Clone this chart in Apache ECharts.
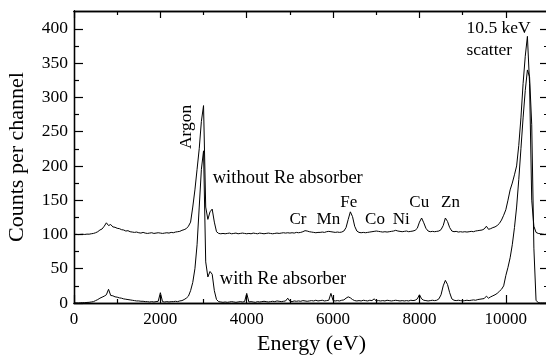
<!DOCTYPE html>
<html>
<head>
<meta charset="utf-8">
<script src="https://cdn.jsdelivr.net/npm/echarts@6.0.0/dist/echarts.min.js"></script>
<style>
html,body{margin:0;padding:0;background:#fff;}
#c{width:546px;height:356px;}
</style>
</head>
<body>
<div id="c"></div>
<script>
// Energy channels (eV)
const energy = [
  0,50,100,150,200,250,300,350,400,450,
  500,550,600,650,700,750,800,850,900,950,
  1000,1050,1100,1150,1200,1250,1300,1350,1400,1450,
  1500,1550,1600,1650,1700,1750,1800,1850,1900,1950,
  2000,2050,2100,2150,2200,2250,2300,2350,2400,2450,
  2500,2550,2600,2650,2700,2750,2800,2850,2900,2950,
  3000,3050,3100,3150,3200,3250,3300,3350,3400,3450,
  3500,3550,3600,3650,3700,3750,3800,3850,3900,3950,
  4000,4050,4100,4150,4200,4250,4300,4350,4400,4450,
  4500,4550,4600,4650,4700,4750,4800,4850,4900,4950,
  5000,5050,5100,5150,5200,5250,5300,5350,5400,5450,
  5500,5550,5600,5650,5700,5750,5800,5850,5900,5950,
  6000,6050,6100,6150,6200,6250,6300,6350,6400,6450,
  6500,6550,6600,6650,6700,6750,6800,6850,6900,6950,
  7000,7050,7100,7150,7200,7250,7300,7350,7400,7450,
  7500,7550,7600,7650,7700,7750,7800,7850,7900,7950,
  8000,8050,8100,8150,8200,8250,8300,8350,8400,8450,
  8500,8550,8600,8650,8700,8750,8800,8850,8900,8950,
  9000,9050,9100,9150,9200,9250,9300,9350,9400,9450,
  9500,9550,9600,9650,9700,9750,9800,9850,9900,9950,
  10000,10050,10100,10150,10200,10250,10300,10350,10400,10450,
  10500,10550,10600,10650,10700,10750,10800,10850,10900,10950,
  11000
];
// Counts per channel, spectrum without Re absorber (offset +100)
const withoutRe = [
  100.0,100.2,99.8,100.1,100.3,100.0,100.5,100.4,101.0,101.5,
  102.5,104,106.5,108,112,117,113,114.5,111,110.5,
  109,108.5,107,106.5,105,105.5,104,103.5,103,103.5,
  102.5,102,103,102,101.5,102,102.5,101.5,102,102.5,
  102,101.5,102,102.5,102,103,102.5,103.5,104,104.5,
  106,107,108.5,112,118,140,165,195,225,265,
  288,140,122,133,137,118,104,101.5,101,101.5,
  101,101.5,102,101,101.5,102,101,101.5,102,101.5,
  101,101.5,101,102,101.5,101,102,101.5,101,101.5,
  102,101.5,101,101.5,102,101.5,102,102.5,102,102.5,
  102,102.5,102,103,102.5,103,104,105.5,105,104,
  103.5,103,102.5,103,103,103.5,103,104,104.5,104,
  103.5,103,103.5,103,103.5,105,110,122,133,126,
  112,105,103,102.5,103,102.5,103,103.5,104,104.5,
  105,104.5,104,103.5,104,103.5,104,104.5,105,106,
  105,104.5,104,104.5,105,104,104.5,105,106,109,
  118,124,117,109,105,104,104.5,104,104.5,105,
  107,113,124,119,110,105,104,104.5,103.5,104,
  103.5,104,103.5,104,104.5,104,105,105.5,106,106.5,
  108,112,107.5,108.5,110,111,113,116,121,128,
  136,150,165,175,187,200,230,270,320,360,
  389,320,150,112,103,101.5,101,100.5,100,100.5,
  100
];
// Counts per channel, spectrum with Re absorber
const withRe = [
  0,0.2,0,0.3,0.5,0.5,0.8,1,1.5,2,
  3.5,5,7,8.5,10,12,20,11,10.5,9,
  8.5,7.5,7,6,5.5,5,4.5,4,3.5,3,
  3,2.5,2.5,2,2,1.5,2,1.5,2,2.5,
  15,2,1.5,2,1.5,2,2,2.5,2,3,
  3.5,5,7,10,18,30,50,85,140,195,
  222,60,38,46,42,18,5,2,1.5,1,
  1.5,1,1.5,2,1.5,1,1.5,2,1.5,2,
  14,1.5,2,1.5,1,2,1.5,2,2.5,2,
  1.5,2,2.5,2,3,2.5,2,2.5,3,7,
  2.5,2,3,2.5,3,2.5,3.5,3,2.5,3,
  3.5,3,4,3,3.5,4,3,3.5,4,14,
  3.5,3,3.5,3,4,4.5,7,9,7.5,5,
  3.5,3,3.5,3,4,3.5,3,4,3.5,6,
  3,3.5,3,3.5,3,4,3.5,3,3.5,4,
  3.5,3,3.5,3,3.5,3,4,3.5,4,6,
  12,6,4,3.5,3,3.5,4,3.5,4,6,
  12,25,33,27,15,6,4,3.5,4,3.5,
  3,3.5,4,3.5,4,4.5,4,5,5.5,6,
  6.5,10,7,9,10.5,12,14,17,20,25,
  40,52,66,85,110,140,180,225,270,310,
  340,330,260,80,4,0.5,0,0,0,0,
  0
];
// Tick positions / labels
const xMajorTicks = [0,2000,4000,6000,8000,10000];
const xMinorTicks = [1000,3000,5000,7000,9000];
const yMajorTicks = [0,50,100,150,200,250,300,350,400];
const yMinorTicks = [25,75,125,175,225,275,325,375];
// Annotations
const labels = [
  {text:'without Re absorber', e:4950, c:182},
  {text:'with Re absorber', e:4840, c:35},
  {text:'Cr', e:5185, c:122},
  {text:'Mn', e:5890, c:122},
  {text:'Fe', e:6365, c:147},
  {text:'Co', e:6970, c:122},
  {text:'Ni', e:7580, c:122},
  {text:'Cu', e:7995, c:147},
  {text:'Zn', e:8720, c:147}
];

const FONT = 'Liberation Serif';
const X0 = 74, W = 475, Y0 = 11, H = 292, XMAX = 11000, YMAX = 426;

const chart = echarts.init(document.getElementById('c'), null, {renderer:'canvas'});

function xAx(pos, ticks, len, opts) {
  return Object.assign({
    type:'value', position:pos, min:0, max:XMAX, gridIndex:0,
    axisLine:{show:true, onZero:false, lineStyle:{color:'#000', width:1.3}},
    axisTick:{show:true, inside:true, length:len, customValues:ticks, lineStyle:{color:'#000', width:1.2}},
    axisLabel:{show:false},
    splitLine:{show:false}
  }, opts||{});
}
function yAx(pos, ticks, len, opts) {
  return Object.assign({
    type:'value', position:pos, min:0, max:YMAX, gridIndex:0,
    axisLine:{show:true, onZero:false, lineStyle:{color:'#000', width:1.3}},
    axisTick:{show:true, inside:true, length:len, customValues:ticks, lineStyle:{color:'#000', width:1.2}},
    axisLabel:{show:false},
    splitLine:{show:false}
  }, opts||{});
}

const graphics = labels.map(l => ({
  type:'text',
  x: X0 + l.e / XMAX * W,
  y: Y0 + H - l.c / YMAX * H,
  style:{text:l.text, font:'17px "' + FONT + '"', fill:'#000', align:'center', verticalAlign:'middle'}
}));
graphics[0].style.font = '18.5px "' + FONT + '"';
graphics[1].style.font = '18.5px "' + FONT + '"';
graphics.push({
  type:'text', x: X0 + 2600 / XMAX * W, y: Y0 + H - 257 / YMAX * H, rotation: Math.PI/2,
  style:{text:'Argon', font:'17.5px "' + FONT + '"', fill:'#000', align:'center', verticalAlign:'middle'}
});
graphics.push({
  type:'text', x: X0 + 9090 / XMAX * W, y: Y0 + H - 400 / YMAX * H,
  style:{text:'10.5 keV', font:'17.5px "' + FONT + '"', fill:'#000', align:'left', verticalAlign:'middle'}
});
graphics.push({
  type:'text', x: X0 + 9090 / XMAX * W, y: Y0 + H - 368 / YMAX * H,
  style:{text:'scatter', font:'17.5px "' + FONT + '"', fill:'#000', align:'left', verticalAlign:'middle'}
});

const plain = v => String(v);

chart.setOption({
  animation:false,
  backgroundColor:'#fff',
  grid:{left:X0, top:Y0, width:W, height:H, containLabel:false, outerBoundsMode:'none'},
  xAxis:[
    xAx('bottom', xMajorTicks, 8, {
      axisLabel:{show:true, customValues:xMajorTicks, formatter:plain, margin:8, color:'#000', fontSize:17, fontFamily:FONT},
      name:'Energy (eV)', nameLocation:'middle', nameGap:28,
      nameTextStyle:{color:'#000', fontSize:22, fontFamily:FONT}
    }),
    xAx('bottom', xMinorTicks, 4),
    xAx('top', xMajorTicks, 7),
    xAx('top', xMinorTicks, 4)
  ],
  yAxis:[
    yAx('left', yMajorTicks, 9, {
      axisLabel:{show:true, customValues:yMajorTicks, formatter:plain, margin:6, color:'#000', fontSize:17.5, fontFamily:FONT},
      name:'Counts per channel', nameLocation:'middle', nameGap:46, nameRotate:90,
      nameTextStyle:{color:'#000', fontSize:22, fontFamily:FONT}
    }),
    yAx('left', yMinorTicks, 5),
    yAx('right', yMajorTicks, 9),
    yAx('right', yMinorTicks, 5)
  ],
  series:[
    {type:'line', xAxisIndex:0, yAxisIndex:0, showSymbol:false, silent:true,
     lineStyle:{color:'#000', width:1}, data: energy.map((e,i)=>[e, withoutRe[i]])},
    {type:'line', xAxisIndex:0, yAxisIndex:0, showSymbol:false, silent:true,
     lineStyle:{color:'#000', width:1}, data: energy.map((e,i)=>[e, withRe[i]])}
  ],
  graphic: graphics
});
</script>
</body>
</html>
